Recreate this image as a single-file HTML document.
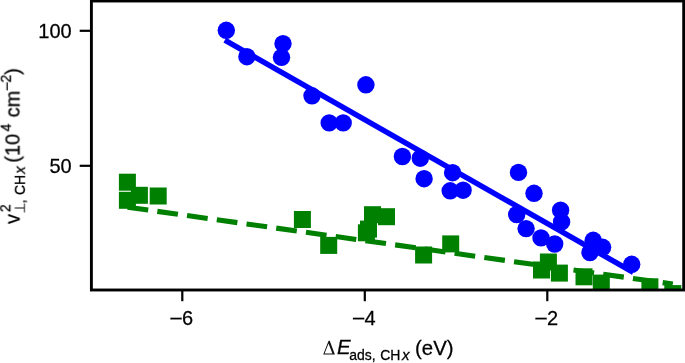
<!DOCTYPE html>
<html><head><meta charset="utf-8"><title>chart</title>
<style>
html,body{margin:0;padding:0;background:#fff;}
body{width:685px;height:363px;overflow:hidden;}
svg{display:block;}
text{will-change:transform;font-family:"Liberation Sans",sans-serif;fill:#000;stroke:#000;stroke-width:0.25px;}
.t{font-size:20px;}
.s{font-size:14px;}
.i{font-style:italic;}
</style></head><body>
<svg width="685" height="363" viewBox="0 0 685 363">
<rect x="0" y="0" width="685" height="363" fill="#fff"/>
<defs><clipPath id="ax"><rect x="91.4" y="1" width="592.3" height="289"/></clipPath></defs>

<g clip-path="url(#ax)">
<g fill="#008000">
<rect x="118.9" y="173.7" width="17" height="17"/>
<rect x="118.9" y="191.8" width="17" height="17"/>
<rect x="130.9" y="186.8" width="17" height="17"/>
<rect x="149.7" y="187.5" width="17" height="17"/>
<rect x="293.9" y="211.0" width="17" height="17"/>
<rect x="320.2" y="236.9" width="17" height="17"/>
<rect x="364.0" y="206.2" width="17" height="17"/>
<rect x="378.0" y="208.2" width="17" height="17"/>
<rect x="357.9" y="224.3" width="17" height="17"/>
<rect x="360.0" y="220.6" width="17" height="17"/>
<rect x="415.1" y="246.5" width="17" height="17"/>
<rect x="442.2" y="235.4" width="17" height="17"/>
<rect x="533.0" y="261.5" width="17" height="17"/>
<rect x="539.9" y="253.5" width="17" height="17"/>
<rect x="550.9" y="264.6" width="17" height="17"/>
<rect x="575.5" y="268.3" width="17" height="17"/>
<rect x="592.8" y="274.6" width="17" height="17"/>
<rect x="641.4" y="278.3" width="17" height="17"/>
<rect x="664.3" y="285.1" width="17" height="17"/>
</g>
<line x1="127.60" y1="207.16" x2="672.80" y2="284.04" stroke="#008000" stroke-width="5.1" stroke-dasharray="20.8 9.22"/>
<g fill="#0000ff">
<circle cx="226.3" cy="30.3" r="8.7"/>
<circle cx="246.9" cy="56.7" r="8.7"/>
<circle cx="283.0" cy="43.6" r="8.7"/>
<circle cx="281.5" cy="57.3" r="8.7"/>
<circle cx="312.0" cy="95.8" r="8.7"/>
<circle cx="365.9" cy="84.8" r="8.7"/>
<circle cx="329.2" cy="122.9" r="8.7"/>
<circle cx="343.2" cy="122.9" r="8.7"/>
<circle cx="402.4" cy="156.5" r="8.7"/>
<circle cx="420.3" cy="158.2" r="8.7"/>
<circle cx="424.1" cy="178.7" r="8.7"/>
<circle cx="452.6" cy="172.7" r="8.7"/>
<circle cx="450.2" cy="190.8" r="8.7"/>
<circle cx="463.1" cy="190.2" r="8.7"/>
<circle cx="518.5" cy="172.4" r="8.7"/>
<circle cx="534.0" cy="193.3" r="8.7"/>
<circle cx="516.7" cy="214.5" r="8.7"/>
<circle cx="526.1" cy="228.6" r="8.7"/>
<circle cx="560.6" cy="210.2" r="8.7"/>
<circle cx="561.6" cy="221.9" r="8.7"/>
<circle cx="541.0" cy="237.9" r="8.7"/>
<circle cx="554.7" cy="244.0" r="8.7"/>
<circle cx="593.2" cy="240.3" r="8.7"/>
<circle cx="602.6" cy="247.3" r="8.7"/>
<circle cx="590.0" cy="252.5" r="8.7"/>
<circle cx="631.7" cy="264.3" r="8.7"/>
</g>
<line x1="224.80" y1="40.10" x2="633.30" y2="272.41" stroke="#0000ff" stroke-width="5.5"/>
</g>
<g stroke="#000" stroke-width="2.9" fill="none">
<rect x="91.4" y="1" width="592.3" height="289"/>
</g>
<g stroke="#000" stroke-width="2.2">
<line x1="182.3" y1="290" x2="182.3" y2="301.2"/>
<line x1="364.8" y1="290" x2="364.8" y2="301.2"/>
<line x1="547.3" y1="290" x2="547.3" y2="301.2"/>
<line x1="79.7" y1="30.8" x2="91.4" y2="30.8"/>
<line x1="79.7" y1="165.8" x2="91.4" y2="165.8"/>
</g>
<text class="t" transform="translate(170.6,324) scale(1,1.04)">–</text>
<text class="t" transform="translate(182.1,324.7) scale(1,1.04)">6</text>
<text class="t" transform="translate(353.1,324) scale(1,1.04)">–</text>
<text class="t" transform="translate(364.6,324.7) scale(1,1.04)">4</text>
<text class="t" transform="translate(535.6,324) scale(1,1.04)">–</text>
<text class="t" transform="translate(547.1,324.7) scale(1,1.04)">2</text>
<text class="t" transform="translate(71.7,38) scale(1,1.04)" text-anchor="end">100</text>
<text class="t" transform="translate(71.7,173) scale(1,1.04)" text-anchor="end">50</text>
<path fill="#111" fill-rule="evenodd" d="M323.2 354.5L328.6 340.8L329.7 340.8L334.9 354.5ZM324.6 353.4L332.4 353.4L328.55 343.6Z"/>
<text class="t i" transform="translate(336.9,354.5) scale(1.02,1.04)">E</text>
<text class="s" transform="translate(349.3,359.7) scale(1,1.04)">ads,</text>
<text class="s" transform="translate(380.2,359.9) scale(1,1.04)">CH</text>
<text class="s i" transform="translate(401.9,359.9) scale(1.08,1.04)">x</text>
<text class="t" transform="translate(415,354.9) scale(1.02,1.04)">(eV)</text>
<g transform="translate(19.2,224.0) rotate(-90)">
<text class="t" transform="translate(0,0) scale(1,1.04)">v</text>
<text class="s" transform="translate(11.9,-9.4) scale(1,1.04)">2</text>
<path d="M11.5 5.2H20.5M16 5.2V-4.6" stroke="#222" stroke-width="1.1" fill="none"/>
<text class="s" transform="translate(20.6,5.2) scale(1,1.04)">,</text>
<text class="s" transform="translate(29,5.2) scale(1,1.04)">CH</text>
<text class="s i" transform="translate(50.4,5.2) scale(1.05,1.04)">x</text>
<text class="t" transform="translate(61.3,0) scale(1,1.04)">(10</text>
<text class="s" transform="translate(92.5,-8.9) scale(1,1.04)">4</text>
<text class="t" transform="translate(106.6,0) scale(1,1.04)">cm</text>
<text class="s" transform="translate(133.7,-8.9) scale(1,1.04)">–2</text>
<text class="t" transform="translate(149.2,0) scale(1,1.04)">)</text>
</g>
</svg></body></html>
